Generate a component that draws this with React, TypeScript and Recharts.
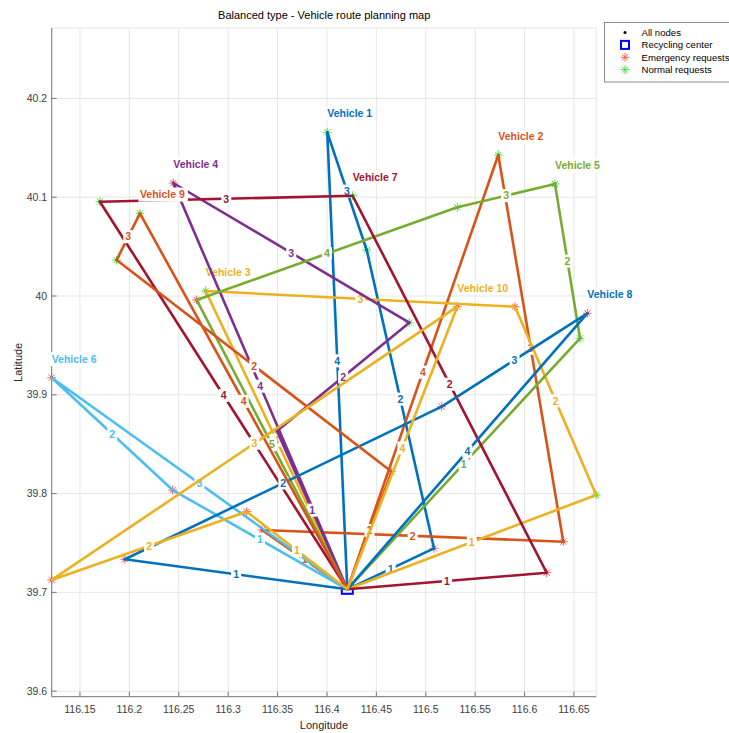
import React from 'react';
import { ScatterChart, Scatter, XAxis, YAxis, CartesianGrid } from 'recharts';

// ---------- data ----------
const DEPOT: [number, number] = [116.4206, 39.7031];

const vehicleNames = ['Vehicle 1', 'Vehicle 2', 'Vehicle 3', 'Vehicle 4', 'Vehicle 5', 'Vehicle 6', 'Vehicle 7', 'Vehicle 8', 'Vehicle 9', 'Vehicle 10'];
const vehicleColors = ['#0072BD', '#D95319', '#EDB120', '#7E2F8E', '#77AC30', '#4DBEEE', '#A2142F', '#0072BD', '#D95319', '#EDB120'];

// stops in visiting order: [lon, lat, type] (E = emergency request, N = normal request)
type Stop = [number, number, string];
const route1: Stop[] = [[116.5083, 39.7446, 'E'], [116.4402, 40.0466, 'N'], [116.4003, 40.1657, 'N']];
const route2: Stop[] = [[116.3342, 39.7632, 'E'], [116.6392, 39.7513, 'E'], [116.5734, 40.1427, 'N']];
const route3: Stop[] = [[116.6725, 39.7986, 'N'], [116.5903, 39.9892, 'E'], [116.2772, 40.0051, 'N']];
const route4: Stop[] = [[116.3494, 39.8634, 'N'], [116.4833, 39.973, 'N'], [116.2444, 40.1144, 'E']];
const route5: Stop[] = [[116.6561, 39.9572, 'N'], [116.6308, 40.1134, 'N'], [116.5319, 40.0898, 'N'], [116.2681, 39.996, 'E']];
const route6: Stop[] = [[116.2438, 39.8036, 'E'], [116.1214, 39.9173, 'E']];
const route7: Stop[] = [[116.6224, 39.7199, 'E'], [116.426, 40.1015, 'N'], [116.1702, 40.0954, 'N']];
const route8: Stop[] = [[116.1955, 39.7335, 'E'], [116.5161, 39.888, 'E'], [116.6635, 39.9825, 'E']];
const route9: Stop[] = [[116.4655, 39.8222, 'N'], [116.1871, 40.0364, 'N'], [116.2107, 40.0837, 'N']];
const route10: Stop[] = [[116.3187, 39.7817, 'E'], [116.1214, 39.7126, 'E'], [116.5319, 39.9892, 'E']];

const routes: Stop[][] = [route1, route2, route3, route4, route5, route6, route7, route8, route9, route10];

const xTicks = [116.15, 116.2, 116.25, 116.3, 116.35, 116.4, 116.45, 116.5, 116.55, 116.6, 116.65];
const yTicks = [39.6, 39.7, 39.8, 39.9, 40, 40.1, 40.2];
const xDomain: [number, number] = [116.1214, 116.6725];
const yDomain: [number, number] = [39.5944, 40.2713];

const titleText = 'Balanced type - Vehicle route planning map';
const legendItems = ['All nodes', 'Recycling center', 'Emergency requests', 'Normal requests'];

// ---------- derived ----------
const FONT = '"Liberation Sans", Arial, Helvetica, sans-serif';
const PLOT_LEFT = 51.7;
const PLOT_BOTTOM = 696.7;

const paths = routes.map((r) => [
  { lon: DEPOT[0], lat: DEPOT[1] },
  ...r.map((s) => ({ lon: s[0], lat: s[1] })),
  { lon: DEPOT[0], lat: DEPOT[1] },
]);

const segLabels = paths.map((p, vi) =>
  p.slice(0, -1).map((a, i) => ({
    lon: (a.lon + p[i + 1].lon) / 2,
    lat: (a.lat + p[i + 1].lat) / 2,
    n: String(i + 1),
    color: vehicleColors[vi],
  }))
);

const vehicleLabelData = routes.map((r, vi) => {
  let top = r[0];
  r.forEach((s) => {
    if (s[1] > top[1]) top = s;
  });
  return [{ lon: top[0], lat: top[1], name: vehicleNames[vi], color: vehicleColors[vi] }];
});

const allStops = routes.flat().map((s) => ({ lon: s[0], lat: s[1], type: s[2] }));
const emergencyStops = allStops.filter((s) => s.type === 'E');
const normalStops = allStops.filter((s) => s.type === 'N');
const depotData = [{ lon: DEPOT[0], lat: DEPOT[1] }];

// ---------- shapes ----------
const Asterisk = ({ cx, cy, color }: any) => {
  const r = 4.4;
  const d = r * 0.7071;
  return (
    <g stroke={color} strokeWidth={0.9}>
      <line x1={cx - r} y1={cy} x2={cx + r} y2={cy} />
      <line x1={cx} y1={cy - r} x2={cx} y2={cy + r} />
      <line x1={cx - d} y1={cy - d} x2={cx + d} y2={cy + d} />
      <line x1={cx - d} y1={cy + d} x2={cx + d} y2={cy - d} />
    </g>
  );
};

const DotShape = (p: any) => <circle cx={p.cx} cy={p.cy} r={1.4} fill="#000" />;
const EmergShape = (p: any) => <Asterisk cx={p.cx} cy={p.cy} color="#ff4a4a" />;
const NormalShape = (p: any) => <Asterisk cx={p.cx} cy={p.cy} color="#2fe02f" />;
const DepotShape = (p: any) => (
  <rect x={p.cx - 5.5} y={p.cy - 4.5} width={11} height={9} fill="none" stroke="#0000ff" strokeWidth={2} />
);
const NoShape = () => <g />;

const SegLabelShape = (p: any) => {
  const { cx, cy, payload } = p;
  return (
    <g>
      <rect x={cx - 5} y={cy - 6.5} width={10} height={13} fill="#fff" />
      <text x={cx} y={cy} dy="0.36em" textAnchor="middle" fill={payload.color} fontWeight="bold" fontSize={10.5} fontFamily={FONT}>
        {payload.n}
      </text>
    </g>
  );
};

const VehicleLabelShape = (p: any) => {
  const { cx, cy, payload } = p;
  const w = payload.name.length * 5.15 + 3;
  const ty = cy - 18.7;
  return (
    <g>
      <rect x={cx - 1.5} y={ty - 7} width={w} height={14} fill="#fff" />
      <text x={cx} y={ty} dy="0.36em" fill={payload.color} fontWeight="bold" fontSize={10.5} fontFamily={FONT}>
        {payload.name}
      </text>
    </g>
  );
};

const XTick = (p: any) => {
  const { x, payload } = p;
  return (
    <g>
      <line x1={x} x2={x} y1={PLOT_BOTTOM} y2={PLOT_BOTTOM - 5} stroke="#7a7a7a" strokeWidth={1} />
      <text x={x} y={PLOT_BOTTOM + 12.6} dy="0.35em" textAnchor="middle" fill="#404040" fontSize={10.5} fontFamily={FONT}>
        {payload.value}
      </text>
    </g>
  );
};

const YTick = (p: any) => {
  const { y, payload } = p;
  return (
    <g>
      <line x1={PLOT_LEFT} x2={PLOT_LEFT + 5} y1={y} y2={y} stroke="#7a7a7a" strokeWidth={1} />
      <text x={PLOT_LEFT - 4.5} y={y} dy="0.35em" textAnchor="end" fill="#404040" fontSize={10.5} fontFamily={FONT}>
        {payload.value}
      </text>
    </g>
  );
};

const XLabel = (p: any) => {
  const vb = p.viewBox || {};
  return (
    <text x={vb.x + vb.width / 2} y={725} dy="0.35em" textAnchor="middle" fill="#262626" fontSize={11} fontFamily={FONT}>
      Longitude
    </text>
  );
};

const YLabel = (p: any) => {
  const vb = p.viewBox || {};
  const cy = vb.y + vb.height / 2;
  return (
    <text x={18.3} y={cy} dy="0.35em" textAnchor="middle" transform={`rotate(-90, 18.3, ${cy})`} fill="#262626" fontSize={11} fontFamily={FONT}>
      Latitude
    </text>
  );
};

export default function App() {
  const vehicleLayers = paths.flatMap((p, i) => [
    <Scatter
      key={'route' + i}
      data={p}
      shape={NoShape}
      line={{ stroke: vehicleColors[i], strokeWidth: 2.6, strokeLinejoin: 'round' } as any}
      lineType="joint"
      isAnimationActive={false}
      legendType="none"
    />,
    <Scatter key={'seg' + i} data={segLabels[i]} shape={SegLabelShape} isAnimationActive={false} legendType="none" />,
    <Scatter key={'vl' + i} data={vehicleLabelData[i]} shape={VehicleLabelShape} isAnimationActive={false} legendType="none" />,
  ]);
  return (
    <div style={{ position: 'absolute', left: 0, top: 0, width: 729, height: 733, overflow: 'hidden', background: '#fff' }}>
      <ScatterChart width={729} height={733} margin={{ top: 28, right: 132.8, bottom: 0, left: 0 }}>
        <CartesianGrid stroke="#e6e6e6" strokeWidth={1} />
        <XAxis
          type="number"
          dataKey="lon"
          domain={xDomain}
          ticks={xTicks}
          height={36.3}
          tickSize={0}
          tickMargin={0}
          tickLine={false}
          tick={<XTick />}
          axisLine={{ stroke: '#7a7a7a', strokeWidth: 1 }}
          interval={0}
          label={{ content: <XLabel /> } as any}
        />
        <YAxis
          type="number"
          dataKey="lat"
          domain={yDomain}
          ticks={yTicks}
          width={51.7}
          tickSize={0}
          tickMargin={0}
          tickLine={false}
          tick={<YTick />}
          axisLine={{ stroke: '#7a7a7a', strokeWidth: 1 }}
          interval={0}
          label={{ content: <YLabel /> } as any}
        />
        <Scatter data={allStops} shape={DotShape} isAnimationActive={false} legendType="none" />
        <Scatter data={depotData} shape={DepotShape} isAnimationActive={false} legendType="none" />
        <Scatter data={emergencyStops} shape={EmergShape} isAnimationActive={false} legendType="none" />
        <Scatter data={normalStops} shape={NormalShape} isAnimationActive={false} legendType="none" />
        {vehicleLayers}
      </ScatterChart>
      <svg width={729} height={733} style={{ position: 'absolute', left: 0, top: 0, pointerEvents: 'none' }}>
        <text x={324.2} y={15} dy="0.35em" textAnchor="middle" fill="#000" fontSize={11} fontFamily={FONT}>
          {titleText}
        </text>
        <rect x={604.5} y={22.5} width={140} height={59.5} fill="#fff" stroke="#8c8c8c" strokeWidth={1} />
        {legendItems.map((t, i) => {
          const y = 32.5 + i * 12.4;
          return (
            <g key={t}>
              {i === 0 && <circle cx={625} cy={y} r={1.5} fill="#000" />}
              {i === 1 && <rect x={621} y={y - 4} width={8} height={8} fill="none" stroke="#0000ff" strokeWidth={2} />}
              {i === 2 && <Asterisk cx={625} cy={y} color="#ff4a4a" />}
              {i === 3 && <Asterisk cx={625} cy={y} color="#2fe02f" />}
              <text x={641.5} y={y} dy="0.35em" fill="#000" fontSize={9.6} fontFamily={FONT}>
                {t}
              </text>
            </g>
          );
        })}
      </svg>
    </div>
  );
}
